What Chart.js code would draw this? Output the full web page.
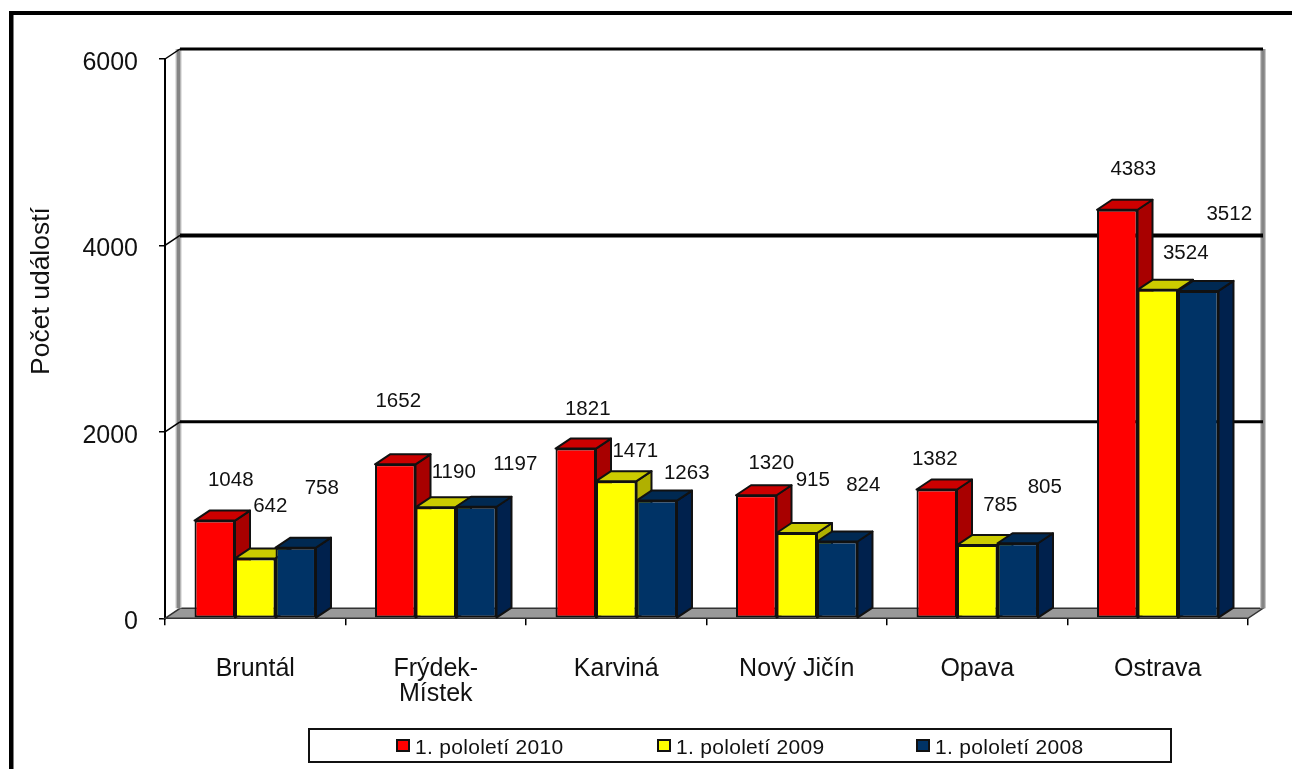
<!DOCTYPE html>
<html>
<head>
<meta charset="utf-8">
<style>
  body { margin: 0; background: #fff; }
  canvas { display: block; }
</style>
<script src="https://cdn.jsdelivr.net/npm/chart.js@4"></script>
</head>
<body>
<canvas id="eventsChart" width="1292" height="769"></canvas>
<script>
const districts = ['Bruntál', ['Frýdek-', 'Místek'], 'Karviná', 'Nový Jičín', 'Opava', 'Ostrava'];
const events2010 = [1048, 1652, 1821, 1320, 1382, 4383];
const events2009 = [642, 1190, 1471, 915, 785, 3524];
const events2008 = [758, 1197, 1263, 824, 805, 3512];
const seriesNames = ['1. pololetí 2010', '1. pololetí 2009', '1. pololetí 2008'];
const axisTitle = 'Počet událostí';

// the original labels were dragged around by hand, so each has its own shift from the bar top
const labelShift = [
  [[16, -40], [3, -63], [12, -39], [15, -32], [-2, -30], [16, -40]],
  [[15, -52], [18, -35], [19, -30], [16, -53], [23, -40], [28, -36]],
  [[26, -59], [39, -42], [30, -27], [26, -56], [27, -56], [31, -77]]
];

const depthX = 15;
const depthY = -10;
const legendX = [397, 658, 917];
const textFont = '"Liberation Sans", Arial, sans-serif';

const sideColors = ['#a80000', '#b0b000', '#00214d'];
const topColors = ['#cc0000', '#cccc00', '#002952'];

function poly(ctx, pts, fill) {
  ctx.beginPath();
  pts.forEach((p, i) => i ? ctx.lineTo(p[0], p[1]) : ctx.moveTo(p[0], p[1]));
  ctx.closePath();
  ctx.fillStyle = fill;
  ctx.fill();
  ctx.strokeStyle = '#111';
  ctx.lineWidth = 2;
  ctx.lineJoin = 'round';
  ctx.stroke();
}

const box3d = {
  id: 'box3d',
  beforeDatasetsDraw(chart) {
    const { ctx, chartArea: a, scales: { y } } = chart;
    ctx.save();
    // outer frame, only top and left are in the picture
    ctx.fillStyle = '#000';
    ctx.fillRect(9, 11, 1283, 4);
    ctx.fillRect(9, 11, 4.5, 758);

    // floor
    ctx.beginPath();
    ctx.moveTo(a.left, a.bottom);
    ctx.lineTo(a.left + depthX, a.bottom + depthY);
    ctx.lineTo(a.right + depthX, a.bottom + depthY);
    ctx.lineTo(a.right, a.bottom);
    ctx.closePath();
    ctx.fillStyle = '#999';
    ctx.fill();
    ctx.strokeStyle = '#333';
    ctx.lineWidth = 1.5;
    ctx.stroke();

    // walls
    ctx.strokeStyle = '#c8c8c8';
    ctx.lineWidth = 6;
    [a.left + depthX - 1.5, a.right + depthX].forEach(x => {
      ctx.beginPath();
      ctx.moveTo(x, y.getPixelForValue(6000) + depthY);
      ctx.lineTo(x, a.bottom + depthY);
      ctx.stroke();
    });
    ctx.strokeStyle = '#858585';
    ctx.lineWidth = 3.5;
    [a.left + depthX - 1.5, a.right + depthX].forEach(x => {
      ctx.beginPath();
      ctx.moveTo(x, y.getPixelForValue(6000) + depthY);
      ctx.lineTo(x, a.bottom + depthY);
      ctx.stroke();
    });

    // gridlines sit on the back wall, joined to the ticks by a short diagonal
    ctx.strokeStyle = '#000';
    y.ticks.forEach(t => {
      if (t.value === 0) return;
      const py = y.getPixelForValue(t.value);
      ctx.lineWidth = t.value === 4000 ? 4 : 3;
      ctx.beginPath();
      ctx.moveTo(a.left + depthX, py + depthY);
      ctx.lineTo(a.right + depthX, py + depthY);
      ctx.stroke();
      ctx.lineWidth = 1.5;
      ctx.beginPath();
      ctx.moveTo(a.left, py);
      ctx.lineTo(a.left + depthX, py + depthY);
      ctx.stroke();
    });

    // left to right painter's order: each bar's top and side, then its front
    chart.data.datasets.forEach((ds, i) => {
      const meta = chart.getDatasetMeta(i);
      meta.data.forEach(bar => {
        const l = bar.x - bar.width / 2;
        const r = bar.x + bar.width / 2;
        poly(ctx, [[r, bar.y], [r + depthX, bar.y + depthY], [r + depthX, bar.base + depthY], [r, bar.base]], sideColors[i]);
        poly(ctx, [[l, bar.y], [l + depthX, bar.y + depthY], [r + depthX, bar.y + depthY], [r, bar.y]], topColors[i]);
      });
      meta.controller.draw();
    });
    ctx.restore();
  },
  // everything was painted above, in the right order
  beforeDatasetDraw() {
    return false;
  },
  afterDraw(chart) {
    const { ctx } = chart;
    ctx.save();
    ctx.fillStyle = '#111';

    // value labels
    ctx.font = '20.5px ' + textFont;
    ctx.textAlign = 'center';
    ctx.textBaseline = 'middle';
    chart.data.datasets.forEach((ds, i) => {
      chart.getDatasetMeta(i).data.forEach((bar, j) => {
        ctx.fillText(ds.data[j], bar.x + labelShift[i][j][0], bar.y + labelShift[i][j][1]);
      });
    });

    // axis title
    ctx.save();
    ctx.translate(42, 291);
    ctx.rotate(-Math.PI / 2);
    ctx.font = '26.5px ' + textFont;
    ctx.fillText(axisTitle, 0, 0);
    ctx.restore();

    // legend box
    ctx.strokeStyle = '#111';
    ctx.lineWidth = 2;
    ctx.strokeRect(309, 729, 862, 33);
    ctx.textAlign = 'left';
    ctx.font = '21px ' + textFont;
    ctx.letterSpacing = '0.3px';
    chart.data.datasets.forEach((ds, i) => {
      ctx.fillStyle = ds.backgroundColor;
      ctx.fillRect(legendX[i], 740, 12, 11);
      ctx.strokeRect(legendX[i], 740, 12, 11);
      ctx.fillStyle = '#111';
      ctx.fillText(ds.label, legendX[i] + 18, 748);
    });
    ctx.restore();
  }
};

const barStyle = { borderColor: '#111', borderWidth: 2, borderSkipped: false, barPercentage: 1, categoryPercentage: 0.673 };

new Chart(document.getElementById('eventsChart').getContext('2d'), {
  type: 'bar',
  data: {
    labels: districts,
    datasets: [
      { label: seriesNames[0], data: events2010, backgroundColor: '#ff0000', ...barStyle },
      { label: seriesNames[1], data: events2009, backgroundColor: '#ffff00', ...barStyle },
      { label: seriesNames[2], data: events2008, backgroundColor: '#003366', ...barStyle }
    ]
  },
  options: {
    responsive: false,
    animation: false,
    layout: { padding: { left: 0, top: 59, right: 44, bottom: 0 } },
    plugins: { legend: { display: false }, tooltip: { enabled: false } },
    scales: {
      x: {
        afterFit: s => { s.height = 150.7; },
        grid: { drawOnChartArea: false, color: '#000', lineWidth: 1.5, tickLength: 7 },
        border: { color: '#000', width: 2 },
        ticks: { color: '#111', font: { family: textFont, size: 25, lineHeight: 1 }, padding: 31, maxRotation: 0, autoSkip: false }
      },
      y: {
        min: 0,
        max: 6000,
        afterFit: s => { s.width = 165; },
        grid: { drawOnChartArea: false, color: '#000', lineWidth: 1.5, tickLength: 6 },
        border: { color: '#000', width: 2 },
        ticks: { color: '#111', stepSize: 2000, font: { family: textFont, size: 25 }, padding: 21, labelOffset: 4, callback: v => String(v) }
      }
    }
  },
  plugins: [box3d]
});
</script>
</body>
</html>
